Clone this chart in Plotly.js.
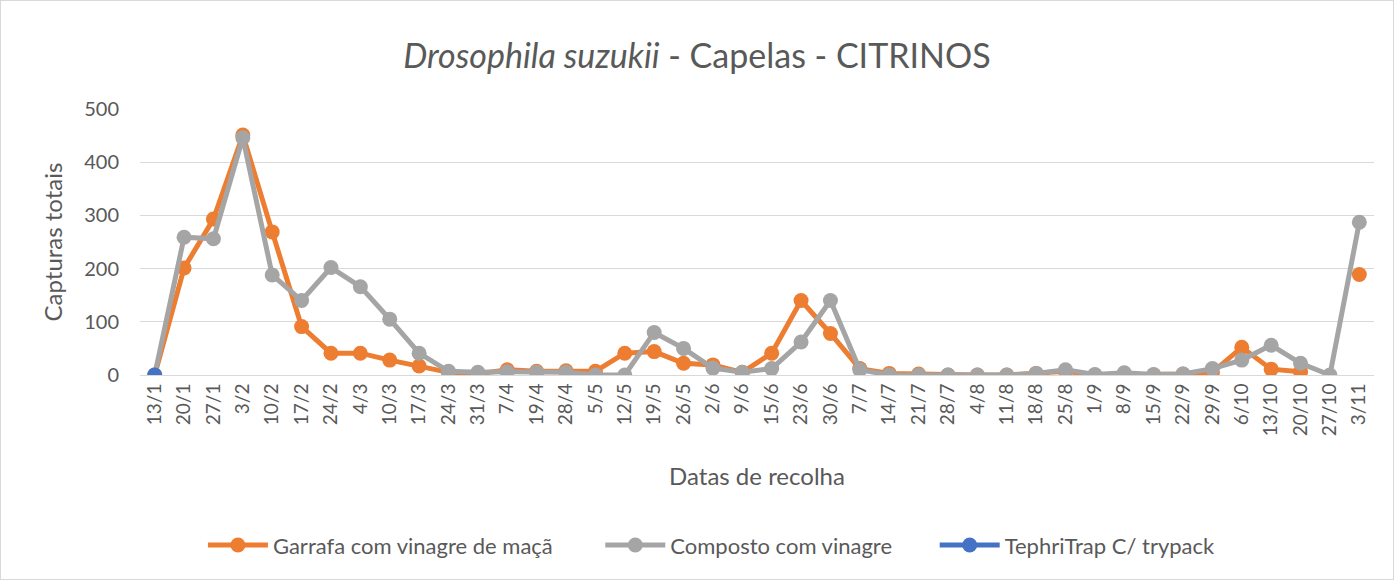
<!DOCTYPE html>
<html><head><meta charset="utf-8">
<script src="https://cdn.plot.ly/plotly-3.0.1.min.js"></script>
<style>html,body{margin:0;padding:0;background:#fff}#c{width:1392px;height:578px;border:1px solid #d9d9d9}</style>
</head><body><div id="c"></div>
<script>
const dates = ["13/1","20/1","27/1","3/2","10/2","17/2","24/2","4/3","10/3","17/3","24/3","31/3","7/4","19/4","28/4","5/5","12/5","19/5","26/5","2/6","9/6","15/6","23/6","30/6","7/7","14/7","21/7","28/7","4/8","11/8","18/8","25/8","1/9","8/9","15/9","22/9","29/9","6/10","13/10","20/10","27/10","3/11"];
const garrafa = [0,201,293,451,269,91,41,41,28,17,5,2,10,7,8,7,41,44,22,19,5,41,140,78,12,3,2,0,0,0,3,7,0,0,0,2,5,52,11,6,null,189];
const composto = [0,259,256,446,188,140,202,166,105,41,7,5,6,5,5,0,0,80,50,13,5,12,62,140,10,0,0,0,0,0,3,10,1,4,1,2,12,28,56,22,0,287];
const tephri = [0,null,null,null,null,null,null,null,null,null,null,null,null,null,null,null,null,null,null,null,null,null,null,null,null,null,null,null,null,null,null,null,null,null,null,null,null,null,null,null,null,null];
const names = ["Garrafa com vinagre de maçã","Composto com vinagre","TephriTrap C/ trypack"];
const colors = ["#ed7d31","#a5a5a5","#4472c4"];
const series = [garrafa, composto, tephri];
const legendIds = ["legend","legend2","legend3"];
const traces = series.map((s,i)=>({
  x: dates, y: s, name: names[i], type:'scatter', mode:'lines+markers',
  line:{color:colors[i], width:5}, marker:{color:colors[i], size:15},
  connectgaps:false, legend: legendIds[i]
}));
const font = "Lato, 'Open Sans', sans-serif";
const legBase = {orientation:'h', xanchor:'left', y:-0.64, yanchor:'middle', font:{size:22}, itemwidth:60, bgcolor:'rgba(0,0,0,0)'};
Plotly.newPlot('c', traces, {
  width:1392, height:578,
  margin:{l:139, r:19, t:108, b:200},
  paper_bgcolor:'#fff', plot_bgcolor:'#fff',
  font:{family:font, color:'#595959', size:20},
  title:{text:"<i>Drosophila suzukii</i> - Capelas - CITRINOS", x:0.5, xanchor:'center', y:0.905, yanchor:'middle', font:{size:34, color:'#595959', family:font}},
  xaxis:{type:'category', tickangle:-90, tickfont:{size:19}, showgrid:false, showline:true, linecolor:'#d9d9d9', ticks:'', range:[-0.5,41.5], automargin:false,
    title:{text:"Datas de recolha", font:{size:24}, standoff:32}},
  yaxis:{range:[0,500], dtick:100, gridcolor:'#d9d9d9', gridwidth:1.3, zeroline:false, tickfont:{size:20}, ticks:'', ticklen:0, ticklabelstandoff:20, automargin:false,
    title:{text:"Capturas totais", font:{size:24}, standoff:14}},
  showlegend:true,
  legend: Object.assign({}, legBase, {x:0.051}),
  legend2: Object.assign({}, legBase, {x:0.373}),
  legend3: Object.assign({}, legBase, {x:0.644})
}, {displayModeBar:false, staticPlot:true});
</script></body></html>
